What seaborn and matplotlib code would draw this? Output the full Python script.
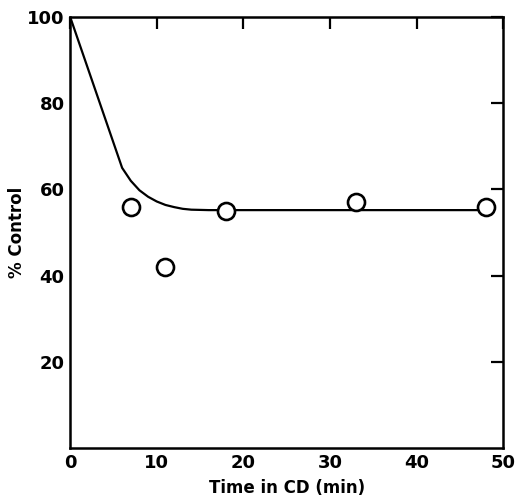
import numpy as np
import pandas as pd
import matplotlib
matplotlib.use('Agg')
import matplotlib.pyplot as plt
import seaborn as sns

sns.set_style("white")
plt.rcParams['font.family'] = ['DejaVu Sans']
plt.rcParams['text.color'] = 'black'
plt.rcParams['axes.labelcolor'] = 'black'
plt.rcParams['xtick.color'] = 'black'
plt.rcParams['ytick.color'] = 'black'

# measured points
time_pts = [7, 11, 18, 33, 48]
control_pts = [56, 42, 55, 57, 56]

# fitted curve drawn by hand in the original
curve_t = [0, 6, 7, 8, 9, 10, 11, 12, 13, 14, 16, 48]
curve_c = [100, 65, 62, 59.8, 58.3, 57.2, 56.4, 55.9, 55.5, 55.3, 55.2, 55.2]

pts = pd.DataFrame({'t': time_pts, 'c': control_pts})
curve = pd.DataFrame({'t': curve_t, 'c': curve_c})

fig = plt.figure(figsize=(5.16, 4.99), dpi=100)
ax = fig.add_axes([0.136, 0.102, 0.839, 0.864])

sns.lineplot(data=curve, x='t', y='c', ax=ax, color='black', linewidth=1.6, sort=False)
sns.scatterplot(data=pts, x='t', y='c', ax=ax, s=150, marker='o',
                facecolor='white', edgecolor='black', linewidth=1.9, zorder=3)

ax.set_xlim(0, 50)
ax.set_ylim(0, 100)
ax.set_xticks([0, 10, 20, 30, 40, 50])
ax.set_yticks([20, 40, 60, 80, 100])
ax.tick_params(direction='in', length=8.5, width=1.6, top=True, right=True,
               labelsize=13, pad=4, colors='black')
for lab in ax.get_xticklabels() + ax.get_yticklabels():
    lab.set_fontweight('bold')
for s in ax.spines.values():
    s.set_linewidth(1.8)
    s.set_color('black')

ax.set_xlabel('Time in CD (min)', fontsize=12, fontweight='bold', labelpad=5, color='black')
ax.set_ylabel('% Control', fontsize=12, fontweight='bold', labelpad=1, color='black')

fig.savefig('out.png', dpi=100)
